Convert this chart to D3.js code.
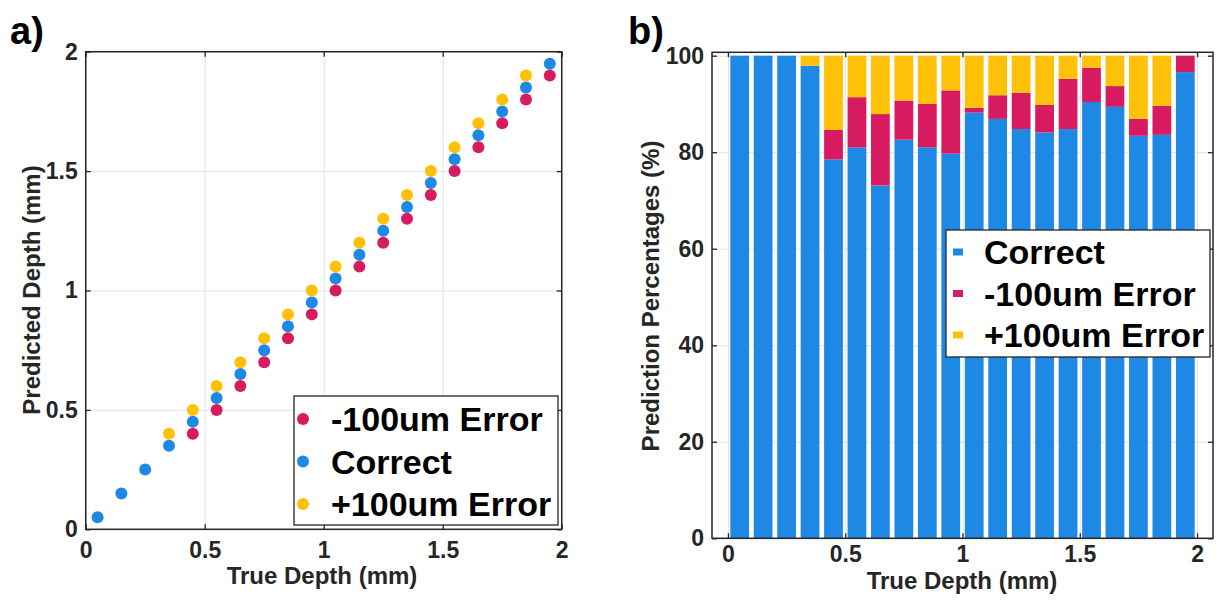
<!DOCTYPE html>
<html>
<head>
<meta charset="utf-8">
<script src="https://cdn.jsdelivr.net/npm/d3@7"></script>
<style>
  body { margin: 0; background: #fff; }
  svg { display: block; font-family: 'Liberation Sans', Arial, Helvetica, sans-serif; font-weight: bold; }
  .tick text { fill: #262626; font-size: 23px; font-weight: bold; }
</style>
</head>
<body>
<svg id="chart" width="1225" height="601"></svg>
<script>
// ---- panel a) data: true depth vs predicted depth (mm)
const correctX = [0.05, 0.15, 0.25, 0.35, 0.45, 0.55, 0.65, 0.75, 0.85, 0.95, 1.05, 1.15, 1.25, 1.35, 1.45, 1.55, 1.65, 1.75, 1.85, 1.95];
const correctY = [0.05, 0.15, 0.25, 0.35, 0.45, 0.55, 0.65, 0.75, 0.85, 0.95, 1.05, 1.15, 1.25, 1.35, 1.45, 1.55, 1.65, 1.75, 1.85, 1.95];
const minusX = [0.45, 0.55, 0.65, 0.75, 0.85, 0.95, 1.05, 1.15, 1.25, 1.35, 1.45, 1.55, 1.65, 1.75, 1.85, 1.95];
const minusY = [0.4, 0.5, 0.6, 0.7, 0.8, 0.9, 1.0, 1.1, 1.2, 1.3, 1.4, 1.5, 1.6, 1.7, 1.8, 1.9];
const plusX = [0.35, 0.45, 0.55, 0.65, 0.75, 0.85, 0.95, 1.05, 1.15, 1.25, 1.35, 1.45, 1.55, 1.65, 1.75, 1.85];
const plusY = [0.4, 0.5, 0.6, 0.7, 0.8, 0.9, 1.0, 1.1, 1.2, 1.3, 1.4, 1.5, 1.6, 1.7, 1.8, 1.9];

// ---- panel b) data: prediction percentages per true depth
const barDepths = [0.05, 0.15, 0.25, 0.35, 0.45, 0.55, 0.65, 0.75, 0.85, 0.95, 1.05, 1.15, 1.25, 1.35, 1.45, 1.55, 1.65, 1.75, 1.85, 1.95];
const correctPct = [100, 100, 100, 97.9, 78.5, 81.0, 73.1, 82.6, 81.0, 79.7, 88.2, 86.9, 84.8, 84.1, 84.8, 90.4, 89.4, 83.4, 83.6, 96.6];
const minusPct = [0, 0, 0, 0, 6.1, 10.4, 14.8, 8.1, 9.0, 13.1, 1.0, 4.9, 7.5, 5.7, 10.4, 7.1, 4.3, 3.5, 6.0, 3.4];
const plusPct = [0, 0, 0, 2.1, 15.4, 8.6, 12.1, 9.3, 10.0, 7.2, 10.8, 8.2, 7.7, 10.2, 4.8, 2.5, 6.3, 13.1, 10.4, 0];

const xTicksA = [0, 0.5, 1, 1.5, 2];
const yTicksA = [0, 0.5, 1, 1.5, 2];
const xTicksB = [0, 0.5, 1, 1.5, 2];
const yTicksB = [0, 20, 40, 60, 80, 100];

const BLUE = '#1E88E5', RED = '#D81B60', YELLOW = '#FFC107';
const AXIS = '#262626', GRID = '#e3e3e3';

const svg = d3.select('#chart');
svg.append('rect').attr('width', 1225).attr('height', 601).attr('fill', '#fff');

// light grid behind the data
function drawGrid(g, x, y, xTicks, yTicks) {
  const [x0, x1] = x.range();
  const [y0, y1] = y.range();
  const w = x1 - x0, h = y0 - y1;
  g.append('g')
    .attr('transform', `translate(0,${y0})`)
    .call(d3.axisBottom(x).tickValues(xTicks).tickSize(-h).tickFormat(''))
    .call((s) => s.select('.domain').remove())
    .call((s) => s.selectAll('line').attr('stroke', GRID).attr('stroke-width', 1));
  g.append('g')
    .attr('transform', `translate(${x0},0)`)
    .call(d3.axisLeft(y).tickValues(yTicks).tickSize(-w).tickFormat(''))
    .call((s) => s.select('.domain').remove())
    .call((s) => s.selectAll('line').attr('stroke', GRID).attr('stroke-width', 1));
}

// MATLAB-like box with inward ticks on all four sides
function drawFrame(g, x, y, xTicks, yTicks, padX) {
  const [x0, x1] = x.range();
  const [y0, y1] = y.range();
  const style = (s) => {
    s.select('.domain').remove();
    s.selectAll('line').attr('stroke', AXIS).attr('stroke-width', 1.3);
  };
  g.append('g').attr('transform', `translate(0,${y0})`)
    .call(d3.axisBottom(x).tickValues(xTicks).tickSizeInner(-5).tickSizeOuter(0).tickPadding(padX).tickFormat(d3.format('')))
    .call(style);
  g.append('g').attr('transform', `translate(0,${y1})`)
    .call(d3.axisTop(x).tickValues(xTicks).tickSizeInner(-5).tickSizeOuter(0).tickFormat(''))
    .call(style);
  g.append('g').attr('transform', `translate(${x0},0)`)
    .call(d3.axisLeft(y).tickValues(yTicks).tickSizeInner(-5).tickSizeOuter(0).tickPadding(8).tickFormat(d3.format('')))
    .call(style);
  g.append('g').attr('transform', `translate(${x1},0)`)
    .call(d3.axisRight(y).tickValues(yTicks).tickSizeInner(-5).tickSizeOuter(0).tickFormat(''))
    .call(style);
  g.append('rect')
    .attr('x', x0).attr('y', y1).attr('width', x1 - x0).attr('height', y0 - y1)
    .attr('fill', 'none').attr('stroke', AXIS).attr('stroke-width', 1.5);
  g.selectAll('.tick text').attr('font-family', null).attr('font-size', null);
}

// ================= panel a)
const gA = svg.append('g');
const xA = d3.scaleLinear().domain([0, 2]).range([85.7, 561.7]);
const yA = d3.scaleLinear().domain([0, 2]).range([529.3, 51.7]);
drawGrid(gA, xA, yA, xTicksA, yTicksA);

const seriesA = [
  { name: '-100um Error', color: RED, xs: minusX, ys: minusY },
  { name: 'Correct', color: BLUE, xs: correctX, ys: correctY },
  { name: '+100um Error', color: YELLOW, xs: plusX, ys: plusY },
];
seriesA.forEach((s) => {
  gA.append('g').selectAll('circle')
    .data(s.xs.map((v, i) => [v, s.ys[i]]))
    .enter().append('circle')
    .attr('cx', (d) => xA(d[0]))
    .attr('cy', (d) => yA(d[1]))
    .attr('r', 6)
    .attr('fill', s.color);
});
drawFrame(gA, xA, yA, xTicksA, yTicksA, 12);

// legend a)
const legA = gA.append('g');
legA.append('rect').attr('x', 294).attr('y', 396).attr('width', 264).attr('height', 129)
  .attr('fill', '#fff').attr('stroke', AXIS).attr('stroke-width', 1.3);
seriesA.forEach((s, i) => {
  const cy = 419 + i * 42.5;
  legA.append('circle').attr('cx', 303).attr('cy', cy).attr('r', 6).attr('fill', s.color);
  legA.append('text').attr('x', 331).attr('y', cy).attr('dy', '0.36em')
    .attr('font-size', 34).attr('fill', '#000').text(s.name);
});

gA.append('text').attr('x', 322).attr('y', 584).attr('text-anchor', 'middle')
  .attr('font-size', 24).attr('fill', AXIS).text('True Depth (mm)');
gA.append('text').attr('transform', 'translate(40,290) rotate(-90)').attr('text-anchor', 'middle')
  .attr('font-size', 24).attr('fill', AXIS).text('Predicted Depth (mm)');
gA.append('text').attr('x', 10).attr('y', 44).attr('font-size', 38).attr('fill', '#000').text('a)');

// ================= panel b)
const gB = svg.append('g');
const xB = d3.scaleLinear().domain([-0.068, 2.068]).range([712, 1213]);
const yB = d3.scaleLinear().domain([0, 100.7]).range([538.3, 52.3]);
drawGrid(gB, xB, yB, xTicksB, yTicksB);

const barRows = barDepths.map((d, i) => ({ depth: d, correct: correctPct[i], minus: minusPct[i], plus: plusPct[i] }));
const keys = ['correct', 'minus', 'plus'];
const colors = { correct: BLUE, minus: RED, plus: YELLOW };
const stacked = d3.stack().keys(keys)(barRows);
const barW = xB(0.08) - xB(0);

gB.append('g').selectAll('g')
  .data(stacked)
  .enter().append('g')
  .attr('fill', (s) => colors[s.key])
  .selectAll('rect')
  .data((s) => s)
  .enter().append('rect')
  .attr('x', (d) => xB(d.data.depth) - barW / 2)
  .attr('width', barW)
  .attr('y', (d) => yB(d[1]))
  .attr('height', (d) => yB(d[0]) - yB(d[1]));

drawFrame(gB, xB, yB, xTicksB, yTicksB, 7);

// legend b)
const legB = gB.append('g');
legB.append('rect').attr('x', 946).attr('y', 230).attr('width', 264).attr('height', 127)
  .attr('fill', '#fff').attr('stroke', AXIS).attr('stroke-width', 1.3);
const legItemsB = [
  { name: 'Correct', color: BLUE },
  { name: '-100um Error', color: RED },
  { name: '+100um Error', color: YELLOW },
];
legItemsB.forEach((s, i) => {
  const cy = 252 + i * 41.5;
  legB.append('rect').attr('x', 953).attr('y', cy - 3.5).attr('width', 10).attr('height', 7).attr('fill', s.color);
  legB.append('text').attr('x', 984).attr('y', cy).attr('dy', '0.36em')
    .attr('font-size', 34).attr('fill', '#000').text(s.name);
});

gB.append('text').attr('x', 962).attr('y', 589).attr('text-anchor', 'middle')
  .attr('font-size', 24).attr('fill', AXIS).text('True Depth (mm)');
gB.append('text').attr('transform', 'translate(659,296) rotate(-90)').attr('text-anchor', 'middle')
  .attr('font-size', 24).attr('fill', AXIS).text('Prediction Percentages (%)');
gB.append('text').attr('x', 628).attr('y', 44).attr('font-size', 38).attr('fill', '#000').text('b)');
</script>
</body>
</html>
